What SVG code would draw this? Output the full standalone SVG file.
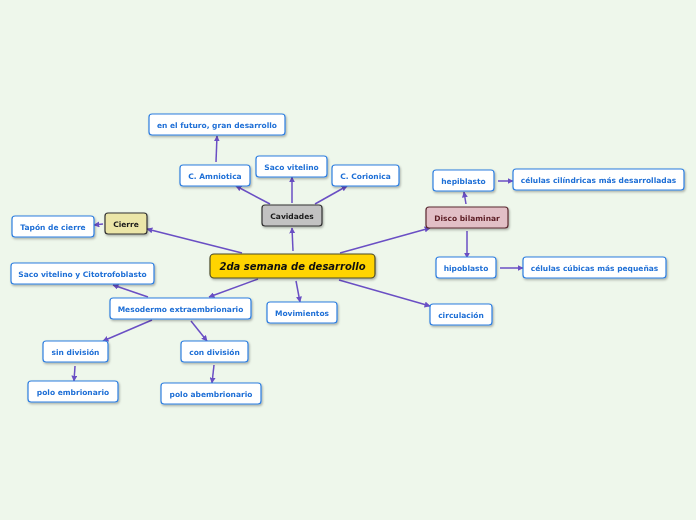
<svg xmlns="http://www.w3.org/2000/svg" width="696" height="520" viewBox="0 0 696 520">
<style>
.n rect{fill:#fff;stroke:#2f7fe0;stroke-width:1.2}
.n text{font-family:"DejaVu Sans",Verdana,sans-serif;font-weight:bold;font-size:7.5px;fill:#1f6fd6;text-anchor:middle;dominant-baseline:central}
.dk text{fill:#1a1a1a}
.c path{fill:none;stroke:#6a4fc4;stroke-width:1.5;marker-end:url(#a)}
</style>
<defs>
<marker id="a" viewBox="0 0 10 10" refX="9" refY="5" markerWidth="6" markerHeight="6" markerUnits="userSpaceOnUse" orient="auto"><path d="M0,0L10,5L0,10z" fill="#6a4fc4"/></marker>
<filter id="s" x="-10%" y="-20%" width="120%" height="150%"><feDropShadow dx="1" dy="1.5" stdDeviation="0.8" flood-color="#000" flood-opacity="0.3"/></filter>
</defs>
<rect width="696" height="520" fill="#eef7eb"/>
<g class="c">
<path d="M293,251L292,228"/>
<path d="M270,204L236,186"/>
<path d="M292,203L292,177"/>
<path d="M315,204L347,186"/>
<path d="M216,162L217,136"/>
<path d="M242,253L147,229"/>
<path d="M103,224L94,225"/>
<path d="M340,253L430,228"/>
<path d="M466,204L464,192"/>
<path d="M498,181L513,181"/>
<path d="M467,231L467,258"/>
<path d="M500,268L523,268"/>
<path d="M258,279L209,297"/>
<path d="M148,297L113,285"/>
<path d="M296,281L300,302"/>
<path d="M339,280L430,306"/>
<path d="M152,320L103,341"/>
<path d="M191,321L207,341"/>
<path d="M75,366L74,381"/>
<path d="M214,365L212,383"/>
</g>
<g id="central" class="n" filter="url(#s)"><rect x="210" y="254" width="165" height="24" rx="4" style="fill:#ffd400;stroke:#4a4a2a"/><text x="292.5" y="266" style="font-size:10px;font-style:italic;fill:#111">2da semana de desarrollo</text></g>
<g id="cavidades" class="n dk" filter="url(#s)"><rect x="262" y="205" width="60" height="21" rx="3" style="fill:#c2c2c2;stroke:#333"/><text x="292" y="216">Cavidades</text></g>
<g id="amniotica" class="n" filter="url(#s)"><rect x="180" y="165" width="70" height="21" rx="3"/><text x="215" y="176">C. Amniotica</text></g>
<g id="saco" class="n" filter="url(#s)"><rect x="256" y="156" width="71" height="21" rx="3"/><text x="291.5" y="167">Saco vitelino</text></g>
<g id="corionica" class="n" filter="url(#s)"><rect x="332" y="165" width="67" height="21" rx="3"/><text x="365.5" y="176">C. Corionica</text></g>
<g id="futuro" class="n" filter="url(#s)"><rect x="149" y="114" width="136" height="21" rx="3"/><text x="217" y="125">en el futuro, gran desarrollo</text></g>
<g id="cierre" class="n dk" filter="url(#s)"><rect x="105" y="213" width="42" height="21" rx="3" style="fill:#ebe6a8;stroke:#333"/><text x="126" y="224">Cierre</text></g>
<g id="tapon" class="n" filter="url(#s)"><rect x="12" y="216" width="82" height="21" rx="3"/><text x="53" y="227">Tapón de cierre</text></g>
<g id="disco" class="n" filter="url(#s)"><rect x="426" y="207" width="82" height="21" rx="3" style="fill:#e2bfc6;stroke:#5a2a30"/><text x="467" y="218" style="fill:#5a1a22">Disco bilaminar</text></g>
<g id="hepiblasto" class="n" filter="url(#s)"><rect x="433" y="170" width="61" height="21" rx="3"/><text x="463.5" y="181">hepiblasto</text></g>
<g id="cilindricas" class="n" filter="url(#s)"><rect x="513" y="169" width="171" height="21" rx="3"/><text x="598.5" y="180">células cilíndricas más desarrolladas</text></g>
<g id="hipoblasto" class="n" filter="url(#s)"><rect x="436" y="257" width="60" height="21" rx="3"/><text x="466" y="268">hipoblasto</text></g>
<g id="cubicas" class="n" filter="url(#s)"><rect x="523" y="257" width="143" height="21" rx="3"/><text x="594.5" y="268">células cúbicas más pequeñas</text></g>
<g id="sacocito" class="n" filter="url(#s)"><rect x="11" y="263" width="143" height="21" rx="3"/><text x="82.5" y="274">Saco vitelino y Citotrofoblasto</text></g>
<g id="mesodermo" class="n" filter="url(#s)"><rect x="110" y="298" width="141" height="21" rx="3"/><text x="180.5" y="309">Mesodermo extraembrionario</text></g>
<g id="movimientos" class="n" filter="url(#s)"><rect x="267" y="302" width="70" height="21" rx="3"/><text x="302" y="313">Movimientos</text></g>
<g id="circulacion" class="n" filter="url(#s)"><rect x="430" y="304" width="62" height="21" rx="3"/><text x="461" y="315">circulación</text></g>
<g id="sindiv" class="n" filter="url(#s)"><rect x="43" y="341" width="65" height="21" rx="3"/><text x="75.5" y="352">sin división</text></g>
<g id="condiv" class="n" filter="url(#s)"><rect x="181" y="341" width="67" height="21" rx="3"/><text x="214.5" y="352">con división</text></g>
<g id="poloemb" class="n" filter="url(#s)"><rect x="28" y="381" width="90" height="21" rx="3"/><text x="73" y="392">polo embrionario</text></g>
<g id="poloabemb" class="n" filter="url(#s)"><rect x="161" y="383" width="100" height="21" rx="3"/><text x="211" y="394">polo abembrionario</text></g>
</svg>
